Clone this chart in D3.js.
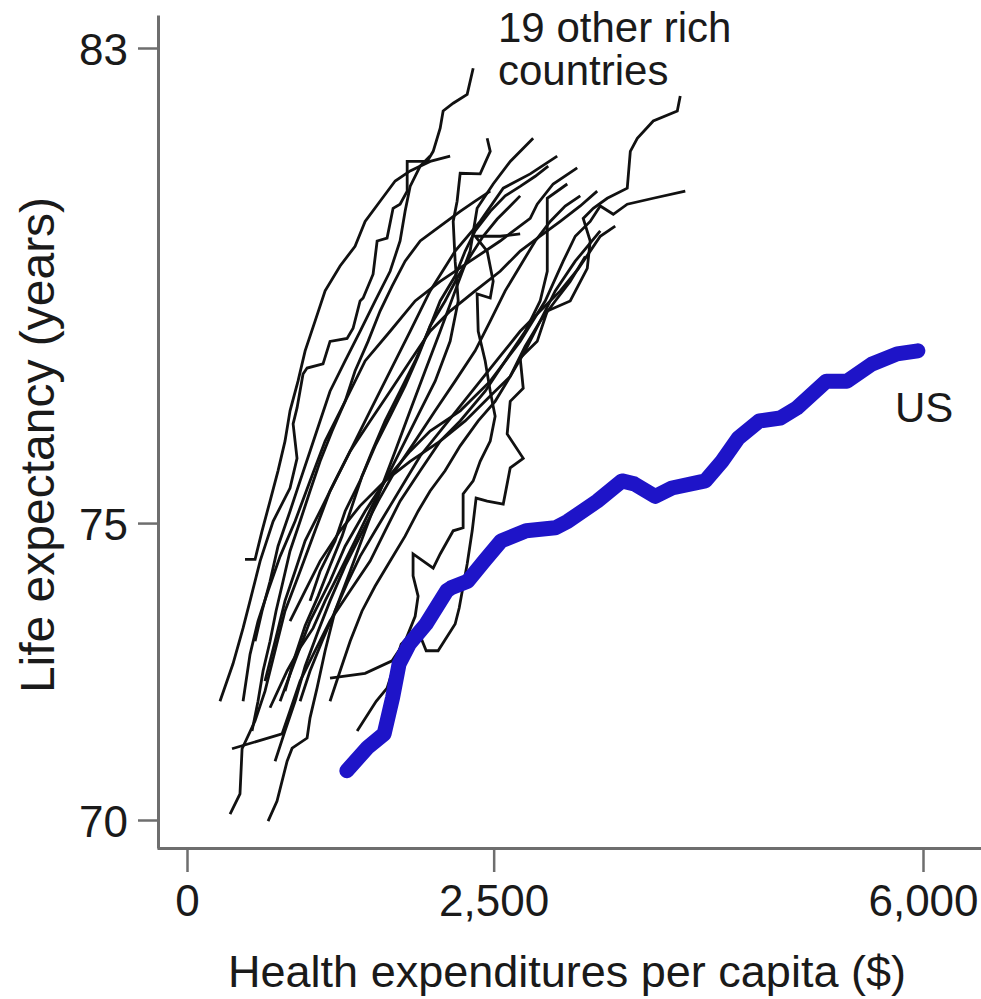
<!DOCTYPE html>
<html>
<head>
<meta charset="utf-8">
<script src="https://cdn.jsdelivr.net/npm/d3@7"></script>
<style>
  body { margin: 0; background: #fff; }
  svg { display: block; }
  text { font-family: "Liberation Sans", Arial, sans-serif; fill: #1a1a1a; }
</style>
</head>
<body>
<svg id="chart" width="981" height="999"></svg>
<script>
// tick values shown on the axes
const xTicks = [0, 2500, 6000]
const yTicks = [70, 75, 83]

// US: health spending per capita ($) vs life expectancy (years)
const usSpending = [1303, 1472, 1607, 1676, 1729, 1811, 1949, 2118, 2153, 2288, 2423, 2561, 2765, 3002, 3104, 3344, 3546, 3646, 3817, 3953, 4225, 4361, 4494, 4666, 4837, 4973, 5212, 5381, 5585, 5789, 5958]
const usLife = [70.83, 71.22, 71.45, 72.06, 72.63, 72.96, 73.30, 73.86, 73.91, 74.02, 74.36, 74.70, 74.87, 74.92, 75.03, 75.37, 75.71, 75.66, 75.45, 75.59, 75.71, 76.04, 76.43, 76.72, 76.77, 76.94, 77.39, 77.39, 77.68, 77.85, 77.90]

// 19 other rich countries, each as [spending, life expectancy] pairs
const otherCountries = [
  [[269, 72.00], [375, 72.63], [457, 73.23], [514, 73.69], [596, 74.36], [702, 75.03], [840, 75.59], [897, 76.09], [865, 76.67], [897, 76.94], [946, 77.51], [979, 77.61], [1109, 77.68], [1166, 78.06], [1305, 78.11], [1354, 78.28], [1411, 78.74], [1436, 78.79], [1517, 79.19], [1550, 79.75], [1631, 79.80], [1680, 80.30], [1737, 80.37], [1795, 80.59], [1795, 81.09], [1958, 81.09], [2007, 81.26], [2064, 81.65], [2088, 81.94], [2170, 82.07], [2284, 82.22], [2333, 82.66]],
  [[1387, 71.50], [1542, 72.00], [1631, 72.22], [1746, 72.96], [1876, 73.23], [1950, 72.85], [2047, 72.85], [2186, 73.30], [2219, 73.57], [2284, 74.31], [2325, 74.87], [2357, 75.42], [2447, 75.37], [2578, 75.32], [2635, 75.93], [2741, 76.09], [2610, 76.50], [2635, 77.05], [2741, 77.27], [2716, 77.78], [2855, 78.06], [2937, 78.57], [3124, 78.74], [3263, 79.29], [3287, 79.75], [3230, 80.13], [3312, 80.30], [3426, 80.47], [3589, 80.64], [3614, 81.26], [3671, 81.48], [3801, 81.77], [3997, 81.94], [4021, 82.19]],
  [[759, 72.00], [881, 72.68], [1003, 73.35], [1166, 74.02], [1289, 74.61], [1452, 75.20], [1615, 75.71], [1819, 76.21], [1982, 76.55], [2227, 76.89], [2472, 77.39], [2716, 78.06], [2920, 78.74], [3067, 79.41], [3165, 79.83], [3287, 80.08], [3369, 80.34], [3475, 80.20], [3589, 80.37], [3801, 80.47], [4062, 80.59]],
  [[661, 69.98], [734, 70.32], [816, 70.99], [857, 71.21], [979, 71.38], [1003, 71.72], [1060, 72.22], [1126, 72.85], [1207, 73.52], [1330, 74.19], [1452, 74.87], [1574, 75.54], [1697, 76.21], [1819, 76.89], [1941, 77.56], [2064, 78.23], [2186, 78.91], [2308, 79.58], [2365, 80.30], [2496, 80.71], [2635, 81.09], [2822, 81.48]],
  [[351, 70.10], [432, 70.44], [449, 71.20], [555, 71.67], [636, 72.17], [718, 72.85], [799, 73.52], [922, 74.19], [1044, 74.87], [1166, 75.54], [1330, 76.21], [1493, 76.89], [1656, 77.56], [1819, 78.23], [1982, 78.91], [2186, 79.58], [2390, 80.08], [2578, 80.64], [2798, 80.88], [3018, 81.18]],
  [[457, 72.00], [514, 72.79], [579, 73.35], [661, 73.86], [759, 74.44], [881, 75.03], [1003, 75.71], [1126, 76.38], [1289, 77.05], [1452, 77.73], [1656, 78.23], [1860, 78.74], [2064, 79.07], [2308, 79.41], [2553, 79.75], [2798, 80.13], [2855, 80.37], [2985, 80.71], [3181, 80.98]],
  [[677, 71.89], [816, 72.51], [922, 72.90], [1028, 73.23], [1126, 73.69], [1248, 74.19], [1370, 74.70], [1509, 75.29], [1656, 75.88], [1778, 76.38], [1901, 76.89], [2023, 77.39], [2145, 78.06], [2211, 78.74], [2186, 79.41], [2170, 80.08], [2202, 80.42], [2227, 80.89], [2390, 80.88], [2472, 81.26], [2447, 81.48]],
  [[473, 74.39], [555, 74.39], [612, 74.87], [677, 75.37], [742, 75.88], [799, 76.38], [840, 76.89], [905, 77.39], [963, 77.90], [1044, 78.40], [1126, 78.91], [1248, 79.33], [1370, 79.66], [1452, 80.08], [1574, 80.42], [1697, 80.76], [1819, 80.93], [1982, 81.09], [2145, 81.18]],
  [[367, 71.20], [775, 71.45], [840, 71.84], [922, 72.34], [1044, 72.85], [1166, 73.35], [1330, 73.86], [1493, 74.36], [1615, 74.87], [1737, 75.37], [1901, 75.88], [2064, 76.38], [2227, 76.72], [2431, 77.22], [2594, 77.73], [2757, 78.23], [2879, 78.74], [2937, 79.24], [2937, 79.92], [2937, 80.47], [3100, 80.71]],
  [[1166, 72.39], [1452, 72.47], [1672, 72.68], [1778, 73.01], [1860, 73.43], [1884, 73.77], [1843, 74.11], [1843, 74.48], [2007, 74.24], [2064, 74.48], [2170, 74.87], [2251, 74.92], [2251, 75.49], [2333, 75.71], [2390, 76.04], [2472, 76.38], [2512, 76.80], [2472, 77.22], [2431, 77.73], [2374, 78.23], [2365, 78.86], [2472, 78.79], [2496, 79.07], [2447, 79.58], [2349, 79.83], [2553, 79.83], [2716, 79.87]],
  [[840, 73.35], [963, 73.86], [1085, 74.36], [1248, 74.87], [1411, 75.29], [1615, 75.71], [1819, 76.04], [2064, 76.38], [2268, 76.72], [2472, 77.14], [2635, 77.47], [2757, 77.90], [2879, 78.40], [3002, 78.91], [3165, 79.41], [3369, 79.92]],
  [[636, 72.34], [718, 73.01], [799, 73.69], [881, 74.19], [963, 74.70], [1085, 75.20], [1207, 75.71], [1330, 76.21], [1493, 76.72], [1656, 77.22], [1819, 77.73], [1982, 78.23], [2145, 78.57], [2349, 78.91], [2553, 79.24], [2716, 79.58], [2879, 79.83], [3043, 80.08], [3206, 80.34], [3344, 80.59]],
  [[555, 73.01], [612, 73.52], [677, 74.02], [742, 74.61], [840, 75.20], [922, 75.71], [1003, 76.21], [1085, 76.72], [1166, 77.22], [1289, 77.73], [1411, 78.23], [1534, 78.74], [1656, 79.24], [1737, 79.75], [1778, 80.25], [1819, 80.67], [1901, 81.01], [1982, 81.18]],
  [[922, 72.00], [1003, 72.51], [1101, 73.01], [1207, 73.52], [1313, 74.02], [1411, 74.44], [1534, 74.87], [1656, 75.29], [1778, 75.71], [1901, 76.13], [2064, 76.55], [2227, 76.97], [2390, 77.39], [2553, 77.81], [2716, 78.23], [2879, 78.57], [3043, 78.91], [3189, 79.28], [3287, 79.58], [3369, 79.83], [3491, 80.00]],
  [[718, 70.99], [799, 71.50], [881, 72.00], [963, 72.59], [1069, 73.18], [1166, 73.69], [1289, 74.28], [1411, 74.78], [1558, 75.37], [1697, 75.88], [1860, 76.38], [2023, 76.89], [2186, 77.39], [2349, 77.90], [2472, 78.40], [2594, 78.91], [2716, 79.33], [2839, 79.75], [2961, 80.08], [3083, 80.34], [3206, 80.51]],
  [[1003, 73.69], [1085, 74.19], [1207, 74.70], [1289, 75.20], [1411, 75.71], [1509, 76.21], [1615, 76.72], [1737, 77.22], [1860, 77.73], [1966, 78.23], [2064, 78.74], [2186, 79.16], [2268, 79.58], [2349, 79.92], [2472, 80.25], [2594, 80.51], [2716, 80.67], [2839, 80.84], [2945, 81.01]],
  [[1166, 72.00], [1248, 72.51], [1330, 73.01], [1427, 73.52], [1534, 73.94], [1656, 74.36], [1778, 74.78], [1884, 75.20], [1982, 75.54], [2104, 75.88], [2227, 76.30], [2374, 76.72], [2512, 77.05], [2635, 77.47], [2757, 77.98], [2879, 78.40], [3002, 78.74], [3124, 79.07], [3247, 79.49]],
  [[530, 71.50], [579, 72.00], [620, 72.51], [677, 73.01], [726, 73.52], [783, 74.02], [840, 74.53], [922, 75.03], [1003, 75.54], [1085, 76.04], [1183, 76.55], [1289, 77.05], [1370, 77.56], [1476, 78.06], [1574, 78.57], [1672, 78.99], [1778, 79.41], [1901, 79.75], [2064, 80.00], [2227, 80.25], [2349, 80.42], [2472, 80.59]],
  [[799, 72.17], [881, 72.76], [963, 73.27], [1069, 73.77], [1166, 74.28], [1264, 74.78], [1346, 75.29], [1427, 75.79], [1534, 76.30], [1656, 76.80], [1778, 77.31], [1884, 77.81], [1982, 78.32], [2104, 78.74], [2211, 79.16], [2308, 79.49], [2414, 79.83], [2529, 80.12], [2635, 80.34], [2716, 80.51]]
]

const svg = d3.select('#chart')

const x = d3.scaleLinear().domain([0, 6000]).range([187, 923])
const y = d3.scaleLinear().domain([70, 83]).range([820, 48])

// axis spines run a little past the outer ticks
const xAxisScale = x.copy().domain([x.invert(157), x.invert(981)]).range([157, 981])
const yAxisScale = y.copy().domain([y.invert(848), y.invert(15)]).range([848, 15])

const axisColor = '#6e6e6e'

const xAxis = svg.append('g')
  .attr('transform', 'translate(0,848)')
  .call(d3.axisBottom(xAxisScale)
    .tickValues(xTicks)
    .tickFormat(d3.format(','))
    .tickSize(24)
    .tickSizeOuter(0)
    .tickPadding(13))
xAxis.select('.domain').attr('stroke', axisColor).attr('stroke-width', 3)
xAxis.selectAll('.tick line').attr('stroke', axisColor).attr('stroke-width', 2.5)
xAxis.selectAll('.tick text')
  .style('font-size', '44px')
  .attr('fill', '#1a1a1a')

const yAxis = svg.append('g')
  .attr('transform', 'translate(158,0)')
  .call(d3.axisLeft(yAxisScale)
    .tickValues(yTicks)
    .tickSize(20)
    .tickSizeOuter(0)
    .tickPadding(10))
yAxis.select('.domain').attr('stroke', axisColor).attr('stroke-width', 3)
yAxis.selectAll('.tick line').attr('stroke', axisColor).attr('stroke-width', 2.5)
yAxis.selectAll('.tick text')
  .style('font-size', '44px')
  .attr('dy', '0.38em')
  .attr('fill', '#1a1a1a')

// axis titles
svg.append('text')
  .attr('x', 567)
  .attr('y', 987)
  .attr('text-anchor', 'middle')
  .style('font-size', '45px')
  .text('Health expenditures per capita ($)')

svg.append('text')
  .attr('transform', 'translate(54,445) rotate(-90)')
  .attr('text-anchor', 'middle')
  .style('font-size', '48px')
  .text('Life expectancy (years)')

const line = d3.line()
  .x((d) => x(d[0]))
  .y((d) => y(d[1]))
  .curve(d3.curveLinear)

svg.append('g')
  .selectAll('path')
  .data(otherCountries)
  .join('path')
  .attr('d', line)
  .attr('fill', 'none')
  .attr('stroke', '#111')
  .attr('stroke-width', 2.8)
  .attr('stroke-linejoin', 'miter')

const usData = usSpending.map((s, i) => [s, usLife[i]])
svg.append('path')
  .datum(usData)
  .attr('d', line)
  .attr('fill', 'none')
  .attr('stroke', '#1e14c8')
  .attr('stroke-width', 15)
  .attr('stroke-linejoin', 'round')
  .attr('stroke-linecap', 'round')

// labels
const note = svg.append('text')
  .attr('x', 498)
  .attr('y', 42)
  .style('font-size', '42px')
note.append('tspan').attr('x', 498).text('19 other rich')
note.append('tspan').attr('x', 498).attr('dy', 43).text('countries')

svg.append('text')
  .attr('x', 895)
  .attr('y', 422)
  .style('font-size', '42px')
  .text('US')
</script>
</body>
</html>
